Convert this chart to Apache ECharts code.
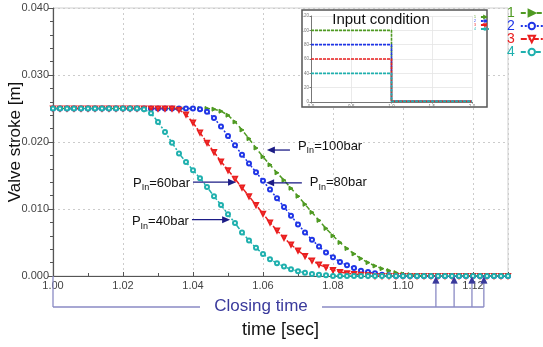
<!DOCTYPE html>
<html><head><meta charset="utf-8">
<script src="https://cdn.jsdelivr.net/npm/echarts@6/dist/echarts.min.js"></script>
<style>html,body{margin:0;padding:0;background:#fff}#c{width:543px;height:347px}</style>
</head><body><div id="c"></div>
<script>
// ---- data ----
const timeSec = [1.000,1.002,1.004,1.006,1.008,1.010,1.012,1.014,1.016,1.018,
1.020,1.022,1.024,1.026,1.028,1.030,1.032,1.034,1.036,1.038,
1.040,1.042,1.044,1.046,1.048,1.050,1.052,1.054,1.056,1.058,
1.060,1.062,1.064,1.066,1.068,1.070,1.072,1.074,1.076,1.078,
1.080,1.082,1.084,1.086,1.088,1.090,1.092,1.094,1.096,1.098,
1.100,1.102,1.104,1.106,1.108,1.110,1.112,1.114,1.116,1.118,
1.120,1.122,1.124,1.126,1.128,1.130];

// series 1 : Pin = 100 bar
const stroke100 = [0.025,0.025,0.025,0.025,0.025,0.025,0.025,0.025,0.025,0.025,
0.025,0.025,0.025,0.025,0.025,0.025,0.025,0.025,0.025,0.025,
0.025,0.025,0.025,0.0249,0.0246,0.0240,0.0230,0.0218,0.0205,0.0191,
0.0178,0.0166,0.0154,0.0143,0.0131,0.0119,0.0107,0.0095,0.0083,0.0071,
0.0060,0.0050,0.0041,0.0033,0.0026,0.0020,0.0015,0.0011,0.0008,0.0005,
0.0003,0.0002,0.0001,0,0,0,0,0,0,0,
0,0,0,0,0,0];
// series 2 : Pin = 80 bar
const stroke80 = [0.025,0.025,0.025,0.025,0.025,0.025,0.025,0.025,0.025,0.025,
0.025,0.025,0.025,0.025,0.025,0.025,0.025,0.025,0.025,0.025,
0.025,0.0249,0.0245,0.0236,0.0223,0.0209,0.0195,0.0181,0.0168,0.0155,
0.0142,0.0129,0.0116,0.0103,0.0090,0.0077,0.0065,0.0054,0.0044,0.0035,
0.0028,0.0021,0.0016,0.0012,0.0008,0.0006,0.0004,0.0002,0.0001,0,
0,0,0,0,0,0,0,0,0,0,
0,0,0,0,0,0];
// series 3 : Pin = 60 bar
const stroke60 = [0.025,0.025,0.025,0.025,0.025,0.025,0.025,0.025,0.025,0.025,
0.025,0.025,0.025,0.025,0.025,0.025,0.025,0.025,0.0248,0.0241,
0.0229,0.0214,0.0199,0.0185,0.0171,0.0158,0.0145,0.0132,0.0119,0.0106,
0.0093,0.0080,0.0068,0.0057,0.0047,0.0038,0.0030,0.0023,0.0017,0.0013,
0.0009,0.0006,0.0004,0.0003,0.0002,0.0001,0,0,0,0,
0,0,0,0,0,0,0,0,0,0,
0,0,0,0,0,0];
// series 4 : Pin = 40 bar
const stroke40 = [0.025,0.025,0.025,0.025,0.025,0.025,0.025,0.025,0.025,0.025,
0.025,0.025,0.025,0.0249,0.0243,0.0230,0.0215,0.0199,0.0183,0.0170,
0.0158,0.0146,0.0133,0.0119,0.0106,0.0092,0.0079,0.0065,0.0053,0.0042,
0.0033,0.0025,0.0019,0.0014,0.0010,0.0007,0.0005,0.0003,0.0002,0.0001,
0,0,0,0,0,0,0,0,0,0,
0,0,0,0,0,0,0,0,0,0,
0,0,0,0,0,0];

const seriesNames = ['1','2','3','4'];
const yTicks = [0, 0.04, 0.01];          // min, max, interval
const xTicks = [1.00, 1.13, 0.02];

// inset "Input condition"
const inTime = [0.0, 1.0, 1.0, 2.0];
const inP100 = [100, 100, 1, 1];
const inP80  = [80, 80, 1, 1];
const inP60  = [60, 60, 1, 1];
const inP40  = [40, 40, 1, 1];

// annotations (data coordinates)
const annoText = ['=100bar','=80bar','=60bar','=40bar'];
const annoTail = [[1.0677,0.0188],[1.0711,0.0139],[1.0400,0.0140],[1.0397,0.0084]];
const annoHead = [[1.0611,0.0188],[1.0609,0.0139],[1.0523,0.0140],[1.0506,0.0084]];
const closingTimes = [1.1094, 1.1146, 1.1197, 1.1231];

// ---- styling ----
const COLORS = ['#4f9a22', '#1f35e6', '#ea1f1f', '#1fb0ae'];
const FONT = 'Liberation Sans, Arial, sans-serif';
const mainVals = [stroke100, stroke80, stroke60, stroke40];
const symbols = ['triangle', 'emptyCircle', 'emptyTriangle', 'emptyCircle'];
const symRot = [-90, 0, 180, 0];
const dashes = [[5,3], [2,2], [6,2,2,2], [5,2,2,2,2,2]];
const inVals = [inP100, inP80, inP60, inP40];

const chart = echarts.init(document.getElementById('c'), null, {renderer: 'canvas'});

const series = [];
mainVals.forEach((vals, k) => {
  series.push({
    name: seriesNames[k], type: 'line', xAxisIndex: 0, yAxisIndex: 0,
    data: timeSec.map((t, i) => [t, vals[i]]),
    symbol: symbols[k], symbolRotate: symRot[k], symbolSize: 4, showAllSymbol: true,
    color: COLORS[k],
    lineStyle: {color: COLORS[k], width: 1.5, type: dashes[k]},
    itemStyle: {color: COLORS[k], borderColor: COLORS[k], borderWidth: 1},
    animation: false, z: 2
  });
});
inVals.forEach((vals, k) => {
  series.push({
    name: seriesNames[k], type: 'line', xAxisIndex: 1, yAxisIndex: 1,
    data: inTime.map((t, i) => [t, vals[i]]),
    symbol: 'none', color: COLORS[k],
    lineStyle: {color: COLORS[k], width: 1.6, type: [3,1]},
    animation: false, z: 5
  });
});

const option = {
  backgroundColor: '#fff',
  animation: false,
  grid: [
    {left: 53, right: 35, top: 8, bottom: 71, show: true, borderColor: '#cfcfcf', borderWidth: 1,
     containLabel: false, outerBoundsMode: 'none'},
    {left: 311, top: 16, width: 161, height: 86, z: 3, containLabel: false, outerBoundsMode: 'none'}
  ],
  xAxis: [{
    type: 'value', gridIndex: 0, min: xTicks[0], max: xTicks[1], interval: xTicks[2],
    name: 'time [sec]', nameLocation: 'middle', nameGap: 45, nameMoveOverlap: false,
    nameTextStyle: {fontSize: 18, fontFamily: FONT, color: '#111'},
    axisLine: {show: true, lineStyle: {color: '#555', width: 1.2}},
    axisTick: {show: true, inside: true, length: 4, lineStyle: {color: '#555'}},
    minorTick: {show: true, splitNumber: 2, length: 3, lineStyle: {color: '#555'}},
    axisLabel: {fontSize: 11, fontFamily: FONT, color: '#444', margin: 4, showMaxLabel: false,
      formatter: v => v.toFixed(2)},
    splitLine: {show: true, lineStyle: {color: '#cccccc', type: [2,3], width: 1}}
  }, {
    type: 'value', gridIndex: 1, min: 0, max: 2, interval: 0.5, z: 3,
    axisLine: {show: true, lineStyle: {color: '#777', width: 1}},
    axisTick: {show: true, length: 1.5, lineStyle: {color: '#777'}},
    axisLabel: {fontSize: 4.5, fontFamily: FONT, color: '#777', margin: 2, formatter: v => v.toFixed(1)},
    splitLine: {show: true, lineStyle: {color: '#e4e4e4', width: 0.8}}
  }],
  yAxis: [{
    type: 'value', gridIndex: 0, min: yTicks[0], max: yTicks[1], interval: yTicks[2],
    name: 'Valve stroke [m]', nameLocation: 'middle', nameGap: 29, nameMoveOverlap: false,
    nameTextStyle: {fontSize: 17, fontFamily: FONT, color: '#111'},
    axisLine: {show: true, lineStyle: {color: '#555', width: 1.2}},
    axisTick: {show: true, length: 5, lineStyle: {color: '#555'}},
    minorTick: {show: true, splitNumber: 5, length: 3, lineStyle: {color: '#555'}},
    axisLabel: {fontSize: 11, fontFamily: FONT, color: '#444', margin: 4, formatter: v => v.toFixed(3)},
    splitLine: {show: true, lineStyle: {color: '#cccccc', type: [2,3], width: 1}}
  }, {
    type: 'value', gridIndex: 1, min: 0, max: 120, interval: 20, z: 3,
    axisLine: {show: true, lineStyle: {color: '#777', width: 1}},
    axisTick: {show: true, length: 1.5, lineStyle: {color: '#777'}},
    axisLabel: {fontSize: 4.5, fontFamily: FONT, color: '#777', margin: 2},
    splitLine: {show: true, lineStyle: {color: '#e4e4e4', width: 0.8}}
  }],
  legend: [{
    data: seriesNames.map((n, k) => ({name: n, textStyle: {color: COLORS[k]}})),
    orient: 'vertical', left: 507, top: 6, align: 'right', padding: 0,
    itemWidth: 22, itemHeight: 8, itemGap: -1, selectedMode: false,
    textStyle: {fontSize: 14, lineHeight: 14, fontFamily: FONT, padding: [0, 1, 0, 0]}
  }, {
    data: seriesNames.map((n, k) => ({name: n, textStyle: {color: COLORS[k]}})),
    orient: 'vertical', left: 474, top: 15, align: 'right', padding: 0,
    itemWidth: 8, itemHeight: 2, itemGap: 0, selectedMode: false,
    textStyle: {fontSize: 3.5, lineHeight: 4, fontFamily: FONT}
  }],
  series: series
};
chart.setOption(option);

// ---- decorations placed through the axes ----
function px(p) { return chart.convertToPixel({xAxisIndex: 0, yAxisIndex: 0}, p); }
function arrow(p1, p2, color, lw, hl, hw, z) {
  const dx = p2[0]-p1[0], dy = p2[1]-p1[1], L = Math.hypot(dx, dy), ux = dx/L, uy = dy/L;
  const bx = p2[0]-ux*hl, by = p2[1]-uy*hl;
  return [
    {type: 'line', shape: {x1: p1[0], y1: p1[1], x2: bx + ux*1, y2: by + uy*1}, style: {stroke: color, lineWidth: lw}, z: z},
    {type: 'polygon', shape: {points: [[p2[0], p2[1]], [bx-uy*hw, by+ux*hw], [bx+uy*hw, by-ux*hw]]}, style: {fill: color}, z: z}
  ];
}
const g = [];
// inset frame
g.push({type: 'rect', shape: {x: 302, y: 10, width: 185, height: 97},
  style: {fill: '#fff', stroke: '#555', lineWidth: 1.5}, z: 1});
g.push({type: 'text', x: 381, y: 20, z: 10,
  style: {text: 'Input condition', fontSize: 15, fontFamily: FONT, fill: '#111', align: 'center', verticalAlign: 'middle'}});

// P_in annotations
const NAVY = '#1c1c86';
const yOff = [-4, 0, 1, 2];
annoText.forEach((t, k) => {
  const a = px(annoTail[k]), b = px(annoHead[k]);
  g.push(...arrow(a, b, NAVY, 1.3, 8, 3.5, 12));
  const right = k >= 2;
  g.push({type: 'text', x: right ? a[0]-3 : a[0]+8, y: a[1]+yOff[k], z: 12,
    style: {text: '{a|P}{b|In}{a|' + t + '}', align: right ? 'right' : 'left', verticalAlign: 'middle',
      rich: {a: {fontSize: 13, fontFamily: FONT, fill: '#111'},
             b: {fontSize: 9, fontFamily: FONT, fill: '#111', padding: [9, 0, 0, 0]}}}});
});

// Closing time bracket
const LAV = '#8a8ac4', DARK = '#3a3a9c';
const o = px([1.00, 0]);
const yb = o[1] + 31;
const xs = closingTimes.map(t => px([t, 0])[0]);
const xEnd = xs[xs.length-1];
g.push({type: 'line', shape: {x1: o[0], y1: o[1], x2: o[0], y2: yb}, style: {stroke: LAV, lineWidth: 1.3}, z: 8});
g.push({type: 'line', shape: {x1: o[0], y1: yb, x2: 200, y2: yb}, style: {stroke: LAV, lineWidth: 1.3}, z: 8});
g.push({type: 'line', shape: {x1: 322, y1: yb, x2: xEnd, y2: yb}, style: {stroke: LAV, lineWidth: 1.3}, z: 8});
g.push({type: 'text', x: 261, y: yb - 1, z: 8,
  style: {text: 'Closing time', fontSize: 17, fontFamily: FONT, fill: DARK, align: 'center', verticalAlign: 'middle'}});
xs.forEach(x => {
  g.push(...arrow([x, yb], [x, o[1] + 0.5], LAV, 1.3, 7, 3.5, 9));
  g.push({type: 'polygon', shape: {points: [[x, o[1]+0.5], [x-3.5, o[1]+7.5], [x+3.5, o[1]+7.5]]}, style: {fill: DARK}, z: 10});
});
chart.setOption({graphic: {elements: g}});
</script>
</body></html>
